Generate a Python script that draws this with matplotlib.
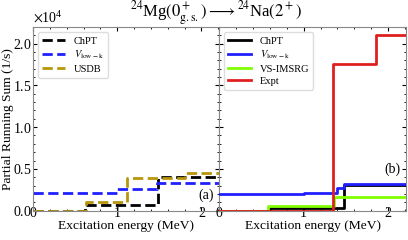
import matplotlib
matplotlib.use("Agg")
import matplotlib.pyplot as plt

plt.rcParams['font.family'] = ['Liberation Serif', 'DejaVu Serif']
plt.rcParams['mathtext.fontset'] = 'stix'

# panel (a): step data, energies in MeV, sums in 1/s
a_chpt_x = [0.0, 0.62, 1.48, 2.3]
a_chpt_y = [0.0, 700, 4050, 4050]
a_vlowk_x = [0.0, 1.0, 1.47, 2.3]
a_vlowk_y = [2150, 2550, 3250, 3250]
a_usdb_x = [0.0, 0.63, 1.115, 1.81, 2.3]
a_usdb_y = [0.0, 1050, 3900, 4450, 4450]

# panel (b)
b_chpt_x = [0.0, 0.6, 1.48, 2.3]
b_chpt_y = [0.0, 350, 3100, 3100]
b_vlowk_x = [0.0, 1.0, 1.40, 1.48, 2.3]
b_vlowk_y = [1950, 2100, 2750, 3200, 3200]
b_imsrg_x = [0.0, 0.575, 1.36, 2.3]
b_imsrg_y = [0.0, 600, 1600, 1600]
b_expt_x = [0.0, 1.35, 1.86, 2.3]
b_expt_y = [0.0, 17600, 21000, 21000]

fig = plt.figure(figsize=(4.08, 2.4), dpi=100)
ax1 = fig.add_axes([0.081, 0.121, 0.456, 0.767])
ax2 = fig.add_axes([0.537, 0.121, 0.458, 0.767], sharey=ax1)

ax1.step(a_chpt_x, a_chpt_y, where='post', color='k', ls='--', lw=2, label='ChPT')
ax1.step(a_vlowk_x, a_vlowk_y, where='post', color='#1f1fff', ls='--', lw=2, label=r'$V_{\rm low-k}$')
ax1.step(a_usdb_x, a_usdb_y, where='post', color='#b8960c', ls='--', lw=2, label='USDB')

ax2.step(b_chpt_x, b_chpt_y, where='post', color='k', lw=2, label='ChPT')
ax2.step(b_imsrg_x, b_imsrg_y, where='post', color='#7fff00', lw=2, label='VS-IMSRG', zorder=2)
ax2.step(b_vlowk_x, b_vlowk_y, where='post', color='#1f1fff', lw=2, label=r'$V_{\rm low-k}$', zorder=3)
ax2.step(b_expt_x, b_expt_y, where='post', color='#e02020', lw=2, label='Expt', zorder=4)

leg_kw = dict(loc='upper left', fontsize=7.5, handlelength=2.2, labelspacing=0.3,
              borderpad=0.4, framealpha=1, edgecolor='#dddddd')
# legend order as in the picture
h, l = ax2.get_legend_handles_labels()
order = [0, 2, 1, 3]
ax2.legend([h[i] for i in order], [l[i] for i in order], **leg_kw)
ax1.legend(**leg_kw)

for ax in (ax1, ax2):
    ax.set_xlim(0, 2.21)
    ax.set_xticks([0, 1, 2])
    ax.minorticks_on()
    ax.tick_params(which='both', direction='in', top=True, right=True, labelsize=10)
    ax.tick_params(axis='x', pad=-3)
    ax.tick_params(axis='y', pad=1)
    ax.tick_params(which='major', length=3)
    ax.tick_params(which='minor', length=1.5)
    ax.set_xlabel('Excitation energy (MeV)', fontsize=9.7, labelpad=0)
    for s in ax.spines.values():
        s.set_color('#888888')

ax1.set_ylim(-40, 22000)
ax1.ticklabel_format(axis='y', style='sci', scilimits=(4, 4), useMathText=True)
ax1.yaxis.get_offset_text().set_fontsize(10)
ax1.set_ylabel('Partial Running Sum (1/s)', fontsize=9.7)
ax1.yaxis.set_label_coords(-0.105, 0.5)
plt.setp(ax2.get_yticklabels(), visible=False)
ax2.yaxis.get_offset_text().set_visible(False)

ax1.text(0.97, 0.05, '(a)', transform=ax1.transAxes, ha='right', va='bottom', fontsize=10)
ax2.text(0.97, 0.19, '(b)', transform=ax2.transAxes, ha='right', va='bottom', fontsize=10)

fig.text(0.53, 0.945, r'$^{24}$Mg$(0^+_{\rm g.s.})\longrightarrow{}^{24}$Na$(2^+)$',
         ha='center', va='center', fontsize=12)

fig.savefig('out.png', dpi=100)
